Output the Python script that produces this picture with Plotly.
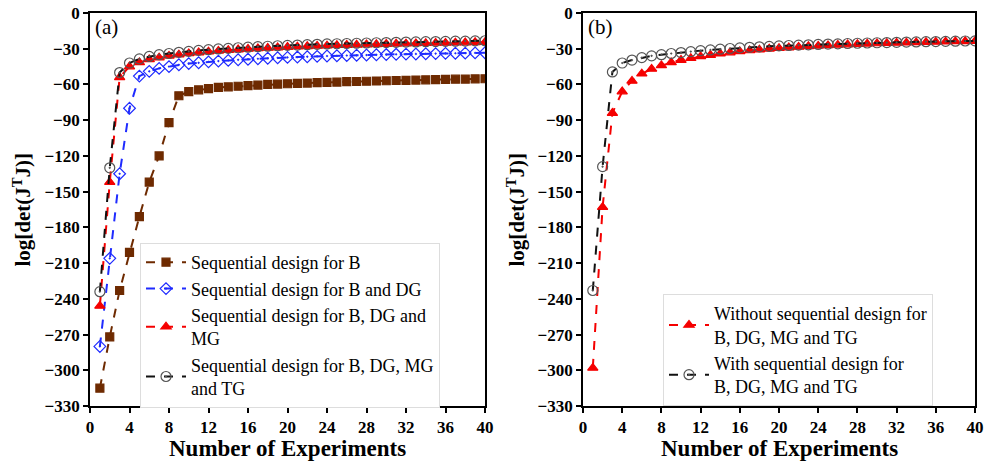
import plotly.graph_objects as go

experiments = list(range(1, 41))

seq_B = [-315, -272, -233, -201, -171, -142, -120, -92, -69.5, -66,
         -64.5, -63.5, -62.5, -62, -61.5, -61, -60.5, -60, -59.7, -59.4,
         -59.1, -58.8, -58.5, -58.2, -58, -57.7, -57.5, -57.3, -57.1, -56.9,
         -56.7, -56.5, -56.3, -56.1, -55.9, -55.8, -55.6, -55.5, -55.3, -55.2]

seq_B_DG = [-280, -206, -135, -80, -53, -49, -46.5, -45, -43.5, -42.5,
            -41.8, -41, -40.4, -39.8, -39.3, -38.8, -38.4, -38, -37.6, -37.3,
            -37, -36.7, -36.4, -36.1, -35.9, -35.7, -35.5, -35.3, -35.1, -34.9,
            -34.7, -34.5, -34.4, -34.2, -34.1, -33.9, -33.8, -33.7, -33.5, -33.4]

seq_B_DG_MG = [-246, -142, -54, -45, -41.5, -39, -37.5, -36, -35, -34,
               -33.2, -32.5, -31.8, -31.2, -30.7, -30.2, -29.8, -29.4, -29, -28.6,
               -28.3, -28, -27.7, -27.4, -27.1, -26.9, -26.7, -26.5, -26.3, -26.1,
               -25.9, -25.7, -25.5, -25.4, -25.2, -25.1, -24.9, -24.8, -24.6, -24.5]

seq_all = [-234, -130, -50, -42, -38.5, -36.5, -35, -34, -33, -32.2,
           -31.4, -30.8, -30.2, -29.7, -29.2, -28.7, -28.3, -27.9, -27.5, -27.2,
           -26.9, -26.6, -26.3, -26, -25.8, -25.6, -25.4, -25.2, -25, -24.8,
           -24.6, -24.4, -24.3, -24.1, -24, -23.8, -23.7, -23.6, -23.4, -23.3]

without_seq = [-298, -163, -84, -66, -57, -51, -47, -44, -41.5, -39.5,
               -38, -36.5, -35.3, -34.2, -33.2, -32.3, -31.5, -30.8, -30.1, -29.5,
               -29, -28.5, -28, -27.6, -27.2, -26.8, -26.5, -26.2, -25.9, -25.6,
               -25.3, -25.1, -24.9, -24.7, -24.5, -24.3, -24.1, -23.9, -23.8, -23.6]

with_seq = [-233, -129, -49.5, -42, -39.5, -37.5, -36, -35, -34, -33.2,
            -32.4, -31.6, -31, -30.4, -29.8, -29.3, -28.8, -28.4, -28, -27.6,
            -27.3, -27, -26.7, -26.4, -26.1, -25.9, -25.6, -25.4, -25.2, -25,
            -24.8, -24.6, -24.4, -24.3, -24.1, -24, -23.8, -23.7, -23.5, -23.4]

x_ticks = list(range(0, 41, 4))
y_ticks = list(range(-330, 1, 30))

FONT = "Liberation Serif, Times New Roman, serif"
BROWN = "#6E2A00"
BLUE = "#1F2BFF"
RED = "#F50000"
GREY = "#555555"

fig = go.Figure()

def add(y, name, color, symbol, size, lcolor, xa, ya, legend):
    fig.add_trace(go.Scatter(
        x=experiments, y=y, name=name, mode="lines+markers",
        line=dict(color=lcolor, width=2, dash="dash"),
        marker=dict(symbol=symbol, size=size, color=color,
                    line=dict(color=color, width=1.2)),
        xaxis=xa, yaxis=ya, legend=legend))

add(seq_B, "Sequential design for B", BROWN, "square", 8, BROWN, "x", "y", "legend")
add(seq_B_DG, "Sequential design for B and DG", BLUE, "diamond-open-dot", 9, BLUE, "x", "y", "legend")
add(seq_B_DG_MG, "Sequential design for B, DG and<br>MG", RED, "triangle-up", 9, RED, "x", "y", "legend")
add(seq_all, "Sequential design for B, DG, MG<br>and TG", GREY, "circle-open-dot", 10, "#111111", "x", "y", "legend")

add(without_seq, "Without sequential design for<br>B, DG, MG and TG", RED, "triangle-up", 9, RED, "x2", "y2", "legend2")
add(with_seq, "With sequential design for<br>B, DG, MG and TG", GREY, "circle-open-dot", 10, "#111111", "x2", "y2", "legend2")

axis_common = dict(
    showline=True, linecolor="black", linewidth=1.8, mirror=True,
    ticks="outside", ticklen=5, tickwidth=1.5, tickcolor="black",
    showgrid=False, zeroline=False, automargin=False,
    tickfont=dict(family=FONT, size=17, color="black", weight="bold"),
)

left_end = (485 - 90) / 885
right_start = (583 - 90) / 885

leg_common = dict(xanchor="left", yanchor="top", bgcolor="white",
                  bordercolor="#dddddd", borderwidth=1,
                  font=dict(family=FONT, size=18, color="black"),
                  tracegroupgap=0, itemwidth=40)

title_font_x = dict(family=FONT, size=23, color="black", weight="bold")
title_font_y = dict(family=FONT, size=21, color="black", weight="bold")

fig.update_layout(
    width=993, height=468,
    margin=dict(l=90, r=18, t=13, b=62, autoexpand=False),
    plot_bgcolor="white", paper_bgcolor="white",
    font=dict(family=FONT, color="black"),
    xaxis=dict(domain=[0, left_end], range=[0, 40], tickvals=x_ticks, anchor="y", **axis_common),
    yaxis=dict(domain=[0, 1], range=[-330, 0], tickvals=y_ticks, anchor="x", **axis_common),
    xaxis2=dict(domain=[right_start, 1], range=[0, 40], tickvals=x_ticks, anchor="y2", **axis_common),
    yaxis2=dict(domain=[0, 1], range=[-330, 0], tickvals=y_ticks, anchor="x2", **axis_common),
    legend=dict(x=(140 - 90) / 885, y=(406 - 243) / 393, **leg_common),
    legend2=dict(x=(663 - 90) / 885, y=(406 - 294) / 393, **leg_common),
    annotations=[
        dict(text="(a)", x=0.3, y=-12, xref="x", yref="y", xanchor="left", yanchor="middle",
             showarrow=False, font=dict(family=FONT, size=21, color="black")),
        dict(text="(b)", x=0.3, y=-12, xref="x2", yref="y2", xanchor="left", yanchor="middle",
             showarrow=False, font=dict(family=FONT, size=21, color="black")),
        dict(text="Number of Experiments", x=left_end / 2, y=-(449 - 406) / 393,
             xref="paper", yref="paper", xanchor="center", yanchor="middle",
             showarrow=False, font=title_font_x),
        dict(text="Number of Experiments", x=(right_start + 1) / 2, y=-(449 - 406) / 393,
             xref="paper", yref="paper", xanchor="center", yanchor="middle",
             showarrow=False, font=title_font_x),
        dict(text="log[det(J<sup>T</sup>J)]", x=(22 - 90) / 885, y=0.5, textangle=-90,
             xref="paper", yref="paper", xanchor="center", yanchor="middle",
             showarrow=False, font=title_font_y),
        dict(text="log[det(J<sup>T</sup>J)]", x=(516 - 90) / 885, y=0.5, textangle=-90,
             xref="paper", yref="paper", xanchor="center", yanchor="middle",
             showarrow=False, font=title_font_y),
    ],
)

fig.write_html("out.html", config={"displayModeBar": False},
               post_script="document.body.style.margin='0';document.body.style.overflow='hidden';")
